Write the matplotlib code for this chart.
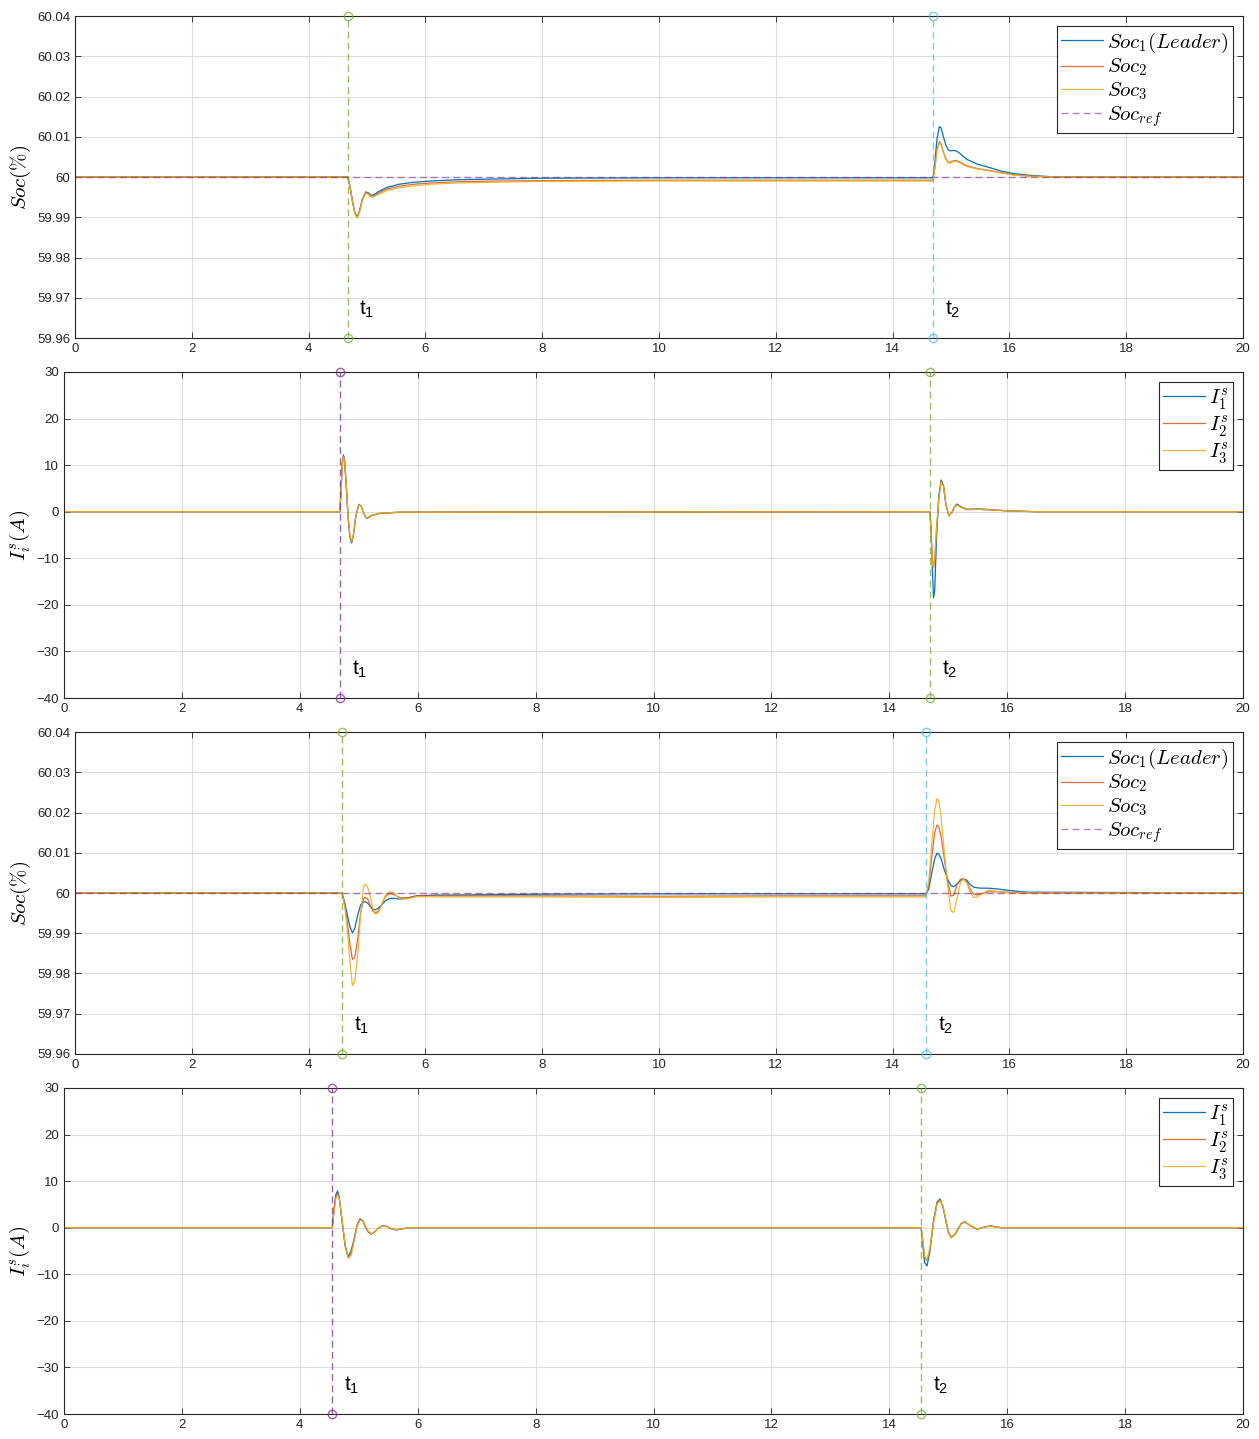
import numpy as np
import matplotlib
matplotlib.use('Agg')
import matplotlib.pyplot as plt

plt.rcParams['font.family'] = ['Liberation Sans', 'DejaVu Sans']
plt.rcParams['mathtext.fontset'] = 'cm'

# ---- data ----
xticks = [0, 2, 4, 6, 8, 10, 12, 14, 16, 18, 20]
soc_yticks = [59.96, 59.97, 59.98, 59.99, 60.0, 60.01, 60.02, 60.03, 60.04]
soc_yticklabels = ['59.96', '59.97', '59.98', '59.99', '60', '60.01', '60.02', '60.03', '60.04']
cur_yticks = [-40, -30, -20, -10, 0, 10, 20, 30]
soc_ref = 60.0

# panel 1: SOC, case 1
t_soc1 = [0, 4.67, 4.71, 4.75, 4.79, 4.83, 4.87, 4.92, 4.98, 5.03,
          5.07, 5.13, 5.2, 5.28, 5.36, 5.55, 5.8, 6.1, 6.5, 7.2,
          8.0, 10.0, 12.0, 14.69, 14.72, 14.76, 14.80, 14.83, 14.87, 14.91,
          14.95, 14.98, 15.03, 15.09, 15.14, 15.18, 15.27, 15.45, 15.67, 15.85,
          16.06, 16.35, 16.8, 20]
soc1_a = [60, 60, 59.9975, 59.994, 59.9912, 59.990, 59.9915, 59.9945, 59.9963, 59.996,
          59.9954, 59.9957, 59.9964, 59.997, 59.9975, 59.9982, 59.9987, 59.999, 59.9993, 59.9995,
          59.9997, 59.9998, 59.9998, 59.9998, 60.003, 60.0095, 60.0125, 60.0122, 60.0100, 60.0080,
          60.0068, 60.0065, 60.0066, 60.0065, 60.006, 60.0055, 60.0044, 60.0032, 60.0023, 60.0015,
          60.0009, 60.0004, 60.0, 60.0]
soc1_b = [60, 60, 59.9975, 59.994, 59.9912, 59.990, 59.9914, 59.9944, 59.9962, 59.9958,
          59.9952, 59.9954, 59.996, 59.9966, 59.9971, 59.9977, 59.9982, 59.9985, 59.9988, 59.999,
          59.9991, 59.9992, 59.9992, 59.9992, 60.002, 60.0068, 60.0088, 60.0082, 60.0062, 60.0046,
          60.0037, 60.0036, 60.004, 60.0041, 60.0038, 60.0035, 60.0028, 60.0021, 60.0016, 60.0011,
          60.0006, 60.0002, 60.0, 60.0]
soc1_c = [60, 60, 59.9975, 59.9938, 59.991, 59.9898, 59.9912, 59.9942, 59.996, 59.9956,
          59.995, 59.9952, 59.9957, 59.9962, 59.9967, 59.9973, 59.9978, 59.9982, 59.9985, 59.9987,
          59.9989, 59.999, 59.999, 59.999, 60.0018, 60.0065, 60.0085, 60.008, 60.006, 60.0044,
          60.0035, 60.0034, 60.0038, 60.0039, 60.0036, 60.0033, 60.0026, 60.002, 60.0015, 60.001,
          60.0005, 60.0002, 60.0, 60.0]

# panel 2: current, case 1
t_cur1 = [0, 4.68, 4.70, 4.72, 4.74, 4.76, 4.79, 4.82, 4.85, 4.88,
          4.91, 4.95, 5.00, 5.04, 5.08, 5.12, 5.15, 5.22, 5.36, 5.70,
          14.69, 14.71, 14.73, 14.75, 14.77, 14.80, 14.84, 14.88, 14.92, 14.96,
          15.01, 15.06, 15.10, 15.15, 15.22, 15.31, 15.54, 15.99, 16.5, 20]
cur1_a = [0, 0, 5, 10.5, 12.2, 11, 5, -1.5, -5.5, -6.7,
          -5, -1, 1.6, 1.2, -0.2, -1.3, -1.4, -0.8, -0.35, -0.1,
          0, -4, -12, -18.5, -17, -6, 3.5, 6.8, 5.5, 1.5,
          -0.9, -0.2, 1.0, 1.65, 1.0, 0.5, 0.6, 0.2, 0, 0]
cur1_b = [0, 0, 4.5, 10, 12, 11, 5.5, -1, -5.2, -6.5,
          -5, -1, 1.5, 1.2, -0.2, -1.2, -1.3, -0.8, -0.35, -0.1,
          0, -5, -10.5, -11.8, -10, -4, 3, 6.5, 5.5, 1.6,
          -0.8, -0.2, 0.9, 1.5, 1.0, 0.5, 0.5, 0.2, 0, 0]
cur1_c = [0, 0, 4.3, 9.8, 11.8, 10.8, 5.5, -1, -5.0, -6.4,
          -5, -1, 1.5, 1.2, -0.2, -1.2, -1.3, -0.8, -0.3, -0.1,
          0, -5.2, -11, -12, -10, -4, 2.8, 6.3, 5.4, 1.6,
          -0.8, -0.2, 0.9, 1.4, 0.9, 0.4, 0.5, 0.2, 0, 0]

# panel 3: SOC, case 2
t_soc2 = [0, 4.57, 4.62, 4.67, 4.71, 4.75, 4.79, 4.84, 4.89, 4.94,
          4.97, 5.01, 5.06, 5.10, 5.14, 5.19, 5.25, 5.31, 5.38, 5.45,
          5.57, 5.7, 5.85, 6.2, 6.5, 8, 10, 12,
          14.57, 14.62, 14.67, 14.72, 14.76, 14.79, 14.83, 14.88, 14.94, 15.00,
          15.05, 15.10, 15.16, 15.21, 15.27, 15.32, 15.38, 15.44, 15.52, 15.64,
          15.8, 15.95, 16.3, 20]
soc2_a = [60, 60, 59.9975, 59.994, 59.9915, 59.9901, 59.9912, 59.9945, 59.997, 59.9978,
          59.9978, 59.9975, 59.9966, 59.996, 59.9958, 59.9962, 59.997, 59.998, 59.9986, 59.9987,
          59.9985, 59.9988, 59.9993, 59.9995, 59.9995, 59.9997, 59.9998, 59.9998,
          59.9998, 60.001, 60.005, 60.0085, 60.0099, 60.0097, 60.0085, 60.006, 60.0035, 60.0018,
          60.0016, 60.0022, 60.0031, 60.0035, 60.0032, 60.0022, 60.0015, 60.0013, 60.0012, 60.0012,
          60.001, 60.0007, 60.0002, 60]
soc2_b = [60, 60, 59.997, 59.992, 59.987, 59.9835, 59.984, 59.9885, 59.995, 59.9985,
          59.9989, 59.9985, 59.9968, 59.9955, 59.995, 59.9955, 59.9972, 59.999, 59.9999, 59.9997,
          59.9988, 59.9988, 59.9993, 59.9993, 59.9993, 59.9993, 59.9992, 59.9993,
          59.9993, 60.002, 60.009, 60.015, 60.0169, 60.0165, 60.014, 60.009, 60.003, 59.9992,
          59.9995, 60.002, 60.0034, 60.0035, 60.0028, 60.0012, 59.9998, 59.9995, 59.9998, 60.0003,
          60.0003, 60.0002, 60.0, 60]
soc2_c = [60, 60, 59.9965, 59.9895, 59.9825, 59.977, 59.978, 59.9845, 59.9945, 60.0015,
          60.0022, 60.0015, 59.999, 59.9962, 59.9948, 59.995, 59.997, 59.9993, 60.0003, 60.0001,
          59.9985, 59.9986, 59.9991, 59.999, 59.999, 59.999, 59.9989, 59.999,
          59.999, 60.003, 60.012, 60.0205, 60.0234, 60.023, 60.019, 60.011, 60.002, 59.9955,
          59.9952, 59.9985, 60.0025, 60.0035, 60.0025, 60.0005, 59.999, 59.9989, 59.9997, 60.0007,
          60.0004, 60.0001, 60.0, 60]

# panel 4: current, case 2
t_cur2 = [0, 4.55, 4.58, 4.61, 4.64, 4.67, 4.72, 4.77, 4.82, 4.87,
          4.92, 4.97, 5.02, 5.07, 5.11, 5.16, 5.21, 5.27, 5.33, 5.40,
          5.46, 5.55, 5.64, 5.75, 5.87,
          14.54, 14.57, 14.60, 14.64, 14.69, 14.75, 14.81, 14.86, 14.91, 14.95,
          15.00, 15.05, 15.11, 15.17, 15.22, 15.28, 15.38, 15.49, 15.6, 15.71,
          15.9, 20]
cur2_a = [0, 0, 4, 7, 7.9, 6.5, 1, -4, -6.2, -5,
          -2.5, 0.5, 1.9, 1.5, 0.3, -0.9, -1.35, -0.9, -0.1, 0.4,
          0.35, -0.2, -0.5, -0.2, 0,
          0, -4, -7.5, -8.2, -5, 1.5, 5.5, 6.2, 4.5, 2,
          -1.0, -2.1, -1.5, -0.2, 0.9, 1.3, 0.4, -0.35, 0.1, 0.4,
          0, 0]
cur2_b = [0, 0, 3.5, 6.6, 7.4, 6.3, 1.3, -3.8, -6.3, -5.5,
          -2.8, 0.3, 1.8, 1.5, 0.4, -0.8, -1.3, -0.9, -0.1, 0.35,
          0.3, -0.2, -0.4, -0.2, 0,
          0, -3, -6.5, -7.0, -4.5, 1.2, 5.3, 6.0, 4.6, 2.2,
          -0.8, -2.0, -1.5, -0.2, 0.8, 1.2, 0.4, -0.3, 0.1, 0.35,
          0, 0]
cur2_c = [0, 0, 3.2, 6.2, 7.0, 6.2, 1.5, -3.6, -6.6, -6,
          -3, 0.2, 1.6, 1.5, 0.5, -0.7, -1.3, -0.9, -0.1, 0.3,
          0.3, -0.2, -0.4, -0.2, 0,
          0, -2.7, -6.2, -6.8, -4.4, 1.0, 5.0, 5.8, 4.7, 2.3,
          -0.8, -2.2, -1.6, -0.3, 0.8, 1.2, 0.4, -0.3, 0.1, 0.3,
          0, 0]

# event times per panel
events = [(4.67, 14.69), (4.68, 14.69), (4.57, 14.57), (4.55, 14.54)]

BLUE, ORANGE, YELLOW = '#0072BD', '#D95319', '#EDB120'
GREEN, LBLUE, PURPLE = '#77AC30', '#4DBEEE', '#7E2F8E'
vcolors = [(GREEN, LBLUE), (PURPLE, GREEN), (GREEN, LBLUE), (PURPLE, GREEN)]

fig = plt.figure(figsize=(12.59, 14.39), dpi=100)
boxes = [
    [0.0596, 0.76511, 0.9277, 0.22377],
    [0.05083, 0.51494, 0.93647, 0.22655],
    [0.0596, 0.26755, 0.9277, 0.22376],
    [0.05083, 0.01737, 0.93647, 0.22655],
]
panels = [
    ('soc', t_soc1, soc1_a, soc1_b, soc1_c),
    ('cur', t_cur1, cur1_a, cur1_b, cur1_c),
    ('soc', t_soc2, soc2_a, soc2_b, soc2_c),
    ('cur', t_cur2, cur2_a, cur2_b, cur2_c),
]

for k, (kind, t, a, b, c) in enumerate(panels):
    ax = fig.add_axes(boxes[k])
    if kind == 'soc':
        ylo, yhi = 59.96, 60.04
        labels = [r'$Soc_1(Leader)$', r'$Soc_2$', r'$Soc_3$']
    else:
        ylo, yhi = -40, 30
        labels = [r'$I_1^s$', r'$I_2^s$', r'$I_3^s$']
    h1, = ax.plot(t, a, color=BLUE, lw=0.9, label=labels[0])
    h2, = ax.plot(t, b, color=ORANGE, lw=0.9, label=labels[1], alpha=0.85)
    h3, = ax.plot(t, c, color=YELLOW, lw=0.9, label=labels[2], alpha=0.9)
    handles = [h1, h2, h3]
    if kind == 'soc':
        h4, = ax.plot([0, 20], [soc_ref, soc_ref], '--', color=PURPLE, lw=1.0, alpha=0.6,
                      dashes=(5, 3), label=r'$Soc_{ref}$')
        handles.append(h4)

    for te, col, name in zip(events[k], vcolors[k], ['1', '2']):
        ax.plot([te, te], [ylo, yhi], '--o', color=col, lw=1.0, alpha=0.75, dashes=(5, 3),
                markersize=6, mfc='none', clip_on=False, zorder=5)
        ty = ylo + 0.0875 * (yhi - ylo)
        ax.text(te + 0.2, ty, r'$\mathregular{t_%s}$' % name, fontsize=15, ha='left',
                va='center', color='black')

    ax.set_xlim(0, 20)
    ax.set_ylim(ylo, yhi)
    ax.set_xticks(xticks)
    if kind == 'soc':
        ax.set_yticks(soc_yticks)
        ax.set_yticklabels(soc_yticklabels)
        ax.set_ylabel(r'$Soc(\%)$', fontsize=15, labelpad=3)
    else:
        ax.set_yticks(cur_yticks)
        ax.set_ylabel(r'$I_i^s(A)$', fontsize=15, labelpad=3)
    ax.grid(True, color='#dedede', lw=0.8)
    ax.set_axisbelow(True)
    ax.tick_params(direction='in', top=True, right=True, labelsize=9.5, colors='#262626',
                   length=4, width=0.6)
    for sp in ax.spines.values():
        sp.set_color('#262626')
        sp.set_linewidth(0.8)

    leg = ax.legend(handles=handles, loc='upper right', fontsize=15, fancybox=False,
                    framealpha=1, edgecolor='#262626', borderaxespad=0.5,
                    handlelength=2.0, handletextpad=0.2, borderpad=0.2, labelspacing=0.1)
    leg.get_frame().set_linewidth(0.8)

fig.savefig('out.png', dpi=100)
